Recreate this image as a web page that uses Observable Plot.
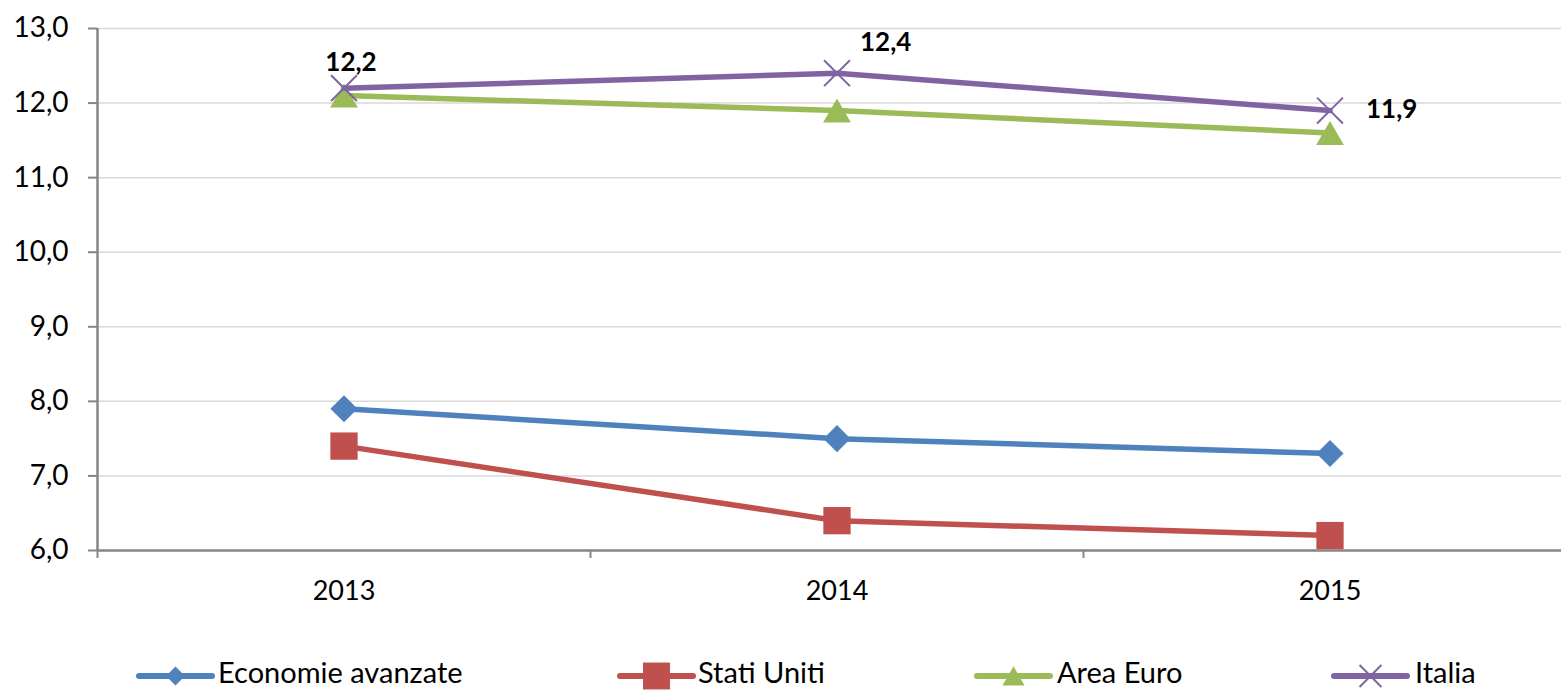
<!DOCTYPE html>
<html>
<head>
<meta charset="utf-8">
<script src="https://cdn.jsdelivr.net/npm/d3@7"></script>
<script src="https://cdn.jsdelivr.net/npm/@observablehq/plot@0.6"></script>
<style>
  html, body { margin: 0; padding: 0; background: #fff; }
  #wrap { position: relative; width: 1561px; height: 690px; overflow: hidden; font-family: Lato, "Open Sans", sans-serif; }
  #legend { position: absolute; left: 0; top: 640px; width: 1561px; height: 50px; }
  .sw { position: absolute; top: 0; display: block; overflow: visible; }
  .lt { position: absolute; top: 18px; height: 28px; line-height: 28px; font-size: 29px; color: #000; white-space: nowrap; }
</style>
</head>
<body>
<div id="wrap"><div id="chart"></div><div id="legend"></div></div>
<script>
// ---- data ----
const years = [2013, 2014, 2015];
const seriesNames = ["Economie avanzate", "Stati Uniti", "Area Euro", "Italia"];
const economieAvanzate = [7.9, 7.5, 7.3];
const statiUniti = [7.4, 6.4, 6.2];
const areaEuro = [12.1, 11.9, 11.6];
const italia = [12.2, 12.4, 11.9];
const yTicks = [6, 7, 8, 9, 10, 11, 12, 13];

// ---- styling ----
const colors = ["#4F81BD", "#C0504D", "#9BBB59", "#8064A2"];
const symbols = ["diamond2", "square", "triangle", "times"];
const radii = [12.2, 15.4, 10.3, 11.8];

const valuesBySeries = [economieAvanzate, statiUniti, areaEuro, italia];
const data = [];
seriesNames.forEach((s, si) => years.forEach((yr, i) => data.push({series: s, year: yr, value: valuesBySeries[si][i]})));

const fmt = v => d3.format(".1f")(v).replace(".", ",");

const marks = [
  Plot.ruleY(yTicks.filter(d => d > 6), {stroke: "#d9d9d9", strokeWidth: 1.5}),
  Plot.ruleX([2012.5], {stroke: "#868686", strokeWidth: 2.5}),
  Plot.ruleY([6], {stroke: "#868686", strokeWidth: 2.5}),
  Plot.axisY({ticks: yTicks, tickFormat: fmt, tickSize: 9, tickPadding: 20, fontSize: 28, stroke: "#868686", strokeWidth: 2, fill: "#000"}),
  Plot.axisX({ticks: [2012.5, 2013.5, 2014.5, 2015.5], tickFormat: () => "", tickSize: 8, stroke: "#868686", strokeWidth: 2}),
  Plot.axisX({ticks: years, tickFormat: d => String(d), tickSize: 0, tickPadding: 30, fontSize: 27, fill: "#000"})
];

seriesNames.forEach((s, si) => {
  const sub = data.filter(d => d.series === s);
  marks.push(Plot.line(sub, {x: "year", y: "value", stroke: colors[si], strokeWidth: 5.5}));
  const sym = symbols[si];
  if (sym === "times") {
    marks.push(Plot.dot(sub, {x: "year", y: "value", symbol: sym, r: radii[si], stroke: colors[si], strokeWidth: 2}));
  } else {
    marks.push(Plot.dot(sub, {x: "year", y: "value", symbol: sym, r: radii[si], fill: colors[si], stroke: "none", dy: sym === "triangle" ? 4 : 0}));
  }
});

const ital = data.filter(d => d.series === "Italia");
const labelStyle = {x: "year", y: "value", text: d => fmt(d.value), fontSize: 26, fontWeight: "bold", fill: "#000"};
marks.push(Plot.text(ital.filter(d => d.year === 2013), {...labelStyle, dx: 7, dy: -25}));
marks.push(Plot.text(ital.filter(d => d.year === 2014), {...labelStyle, dx: 23, dy: -31, textAnchor: "start"}));
marks.push(Plot.text(ital.filter(d => d.year === 2015), {...labelStyle, dx: 36, dy: -1, textAnchor: "start"}));

const chart = Plot.plot({
  width: 1561,
  height: 640,
  marginLeft: 97,
  marginRight: 0,
  marginTop: 28,
  marginBottom: 90,
  style: {fontFamily: "Lato, 'Open Sans', sans-serif", background: "#fff", overflow: "visible"},
  x: {type: "linear", domain: [2012.5, 2015.5], range: [97, 1576], label: null},
  y: {domain: [6, 13], label: null},
  marks
});
document.getElementById("chart").appendChild(chart);

// ---- legend ----
const lineStart = [139, 620, 977, 1334];
const lineLen = 73;
const textStart = [218, 698, 1057, 1415];
const legendR = {diamond2: 8.6, square: 15.2, triangle: 8.2, times: 10};
const legend = d3.select("#legend");
seriesNames.forEach((s, si) => {
  const svg = legend.append("svg").attr("class", "sw")
    .style("left", (lineStart[si] - 5) + "px").attr("width", lineLen + 10).attr("height", 50);
  svg.append("line").attr("x1", 5).attr("x2", 5 + lineLen).attr("y1", 36).attr("y2", 36)
    .attr("stroke", colors[si]).attr("stroke-width", 6).attr("stroke-linecap", "round");
  const sym = symbols[si];
  const symName = "symbol" + sym.charAt(0).toUpperCase() + sym.slice(1);
  const r = legendR[sym];
  const path = d3.symbol(d3[symName], Math.PI * r * r)();
  const p = svg.append("path").attr("d", path)
    .attr("transform", `translate(${5 + lineLen / 2},${sym === "triangle" ? 39 : 36})`);
  if (sym === "times") p.attr("fill", "none").attr("stroke", colors[si]).attr("stroke-width", 2);
  else p.attr("fill", colors[si]);
  legend.append("div").attr("class", "lt").style("left", textStart[si] + "px").text(s);
});
</script>
</body>
</html>
